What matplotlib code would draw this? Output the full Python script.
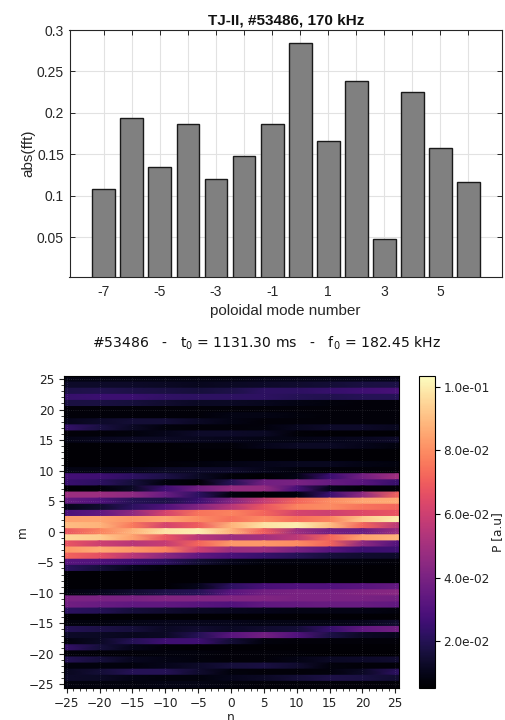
import numpy as np
import matplotlib
matplotlib.use("Agg")
import matplotlib.pyplot as plt
from matplotlib.colors import Normalize
from matplotlib.cm import ScalarMappable

W, H = 505, 720

# --- top panel data ---
mode_numbers = list(range(-7, 7))
fft_values = [0.108, 0.194, 0.134, 0.187, 0.120, 0.148, 0.186, 0.284, 0.166, 0.239, 0.047, 0.225, 0.158, 0.117]
y_ticks = [0.05, 0.1, 0.15, 0.2, 0.25, 0.3]
y_ticklabels = ["0.05", "0.1", "0.15", "0.2", "0.25", "0.3"]
x_tick_labelled = [-7, -5, -3, -1, 1, 3, 5]

# --- bottom panel data: P [1e-3 a.u.] sampled along n for each m (top row m=25) ---
n_samples = [-25.5, -20, -15, -10, -5, 0, 5, 10, 15, 20, 25.5]
m_values = list(range(25, -26, -1))
power_rows = [
    [9, 9, 9, 9, 9, 9, 10, 10, 10, 10, 10],
    [13, 13, 13, 12, 11, 12, 13, 14, 15, 17, 18],
    [18, 19, 18, 17, 16, 18, 22, 22, 24, 26, 28],
    [24, 25, 25, 23, 22, 22, 22, 20, 19, 20, 20],
    [17, 17, 16, 14, 12, 12, 11, 9, 8, 7, 7],
    [7, 7, 7, 7, 7, 7, 7, 7, 7, 7, 7],
    [7, 7, 7, 7, 7, 9, 9, 8, 7, 7, 7],
    [10, 13, 15, 15, 12, 9, 7, 7, 7, 7, 7],
    [24, 17, 12, 8, 7, 7, 8, 11, 13, 13, 11],
    [7, 7, 8, 10, 13, 13, 12, 7, 6, 6, 6],
    [9, 11, 12, 12, 11, 10, 9, 9, 10, 11, 13],
    [6, 6, 6, 6, 7, 7, 10, 12, 12, 10, 8],
    [6, 6, 6, 6, 6, 6, 6, 6, 6, 6, 6],
    [6, 6, 6, 6, 6, 6, 6, 6, 6, 6, 6],
    [6, 6, 6, 7, 8, 9, 10, 11, 11, 9, 8],
    [9, 9, 10, 12, 13, 13, 10, 8, 7, 7, 7],
    [27, 26, 22, 18, 12, 7, 6, 9, 25, 38, 50],
    [25, 22, 16, 8, 6, 20, 38, 40, 36, 32, 24],
    [6, 7, 12, 26, 38, 46, 46, 28, 10, 7, 7],
    [48, 48, 45, 36, 22, 8, 6, 8, 25, 45, 72],
    [36, 30, 20, 18, 25, 42, 58, 72, 80, 85, 86],
    [10, 14, 22, 30, 42, 55, 68, 78, 80, 75, 72],
    [28, 34, 45, 62, 75, 78, 72, 62, 60, 64, 68],
    [84, 85, 82, 85, 80, 74, 80, 74, 78, 92, 100],
    [90, 88, 76, 62, 70, 88, 98, 100, 90, 72, 55],
    [68, 78, 88, 98, 100, 88, 70, 48, 38, 36, 48],
    [95, 93, 84, 68, 55, 48, 50, 56, 72, 84, 88],
    [68, 60, 55, 58, 72, 82, 82, 80, 72, 45, 30],
    [82, 86, 82, 78, 60, 48, 48, 40, 32, 25, 26],
    [72, 66, 55, 44, 34, 28, 24, 20, 16, 14, 13],
    [32, 30, 26, 22, 15, 10, 8, 8, 8, 8, 7],
    [22, 16, 10, 7, 6, 6, 6, 6, 6, 6, 6],
    [6, 6, 6, 6, 6, 6, 6, 6, 6, 6, 6],
    [6, 6, 6, 6, 6, 6, 6, 6, 6, 6, 6],
    [6, 6, 6, 6, 10, 22, 28, 30, 30, 32, 35],
    [8, 10, 14, 18, 20, 32, 38, 40, 40, 42, 44],
    [40, 40, 40, 42, 42, 42, 42, 40, 40, 40, 38],
    [38, 36, 34, 34, 32, 30, 34, 35, 36, 36, 34],
    [22, 20, 16, 14, 12, 11, 10, 9, 9, 9, 8],
    [6, 6, 6, 6, 6, 6, 6, 6, 6, 6, 6],
    [8, 8, 9, 10, 10, 10, 9, 9, 9, 10, 14],
    [20, 18, 16, 12, 14, 12, 14, 15, 24, 34, 38],
    [13, 12, 11, 12, 20, 32, 38, 30, 18, 12, 10],
    [8, 12, 20, 26, 26, 15, 8, 7, 7, 7, 7],
    [24, 16, 10, 7, 6, 6, 6, 6, 6, 6, 6],
    [7, 7, 7, 8, 8, 7, 7, 7, 6, 6, 6],
    [20, 16, 11, 9, 8, 7, 7, 9, 12, 13, 14],
    [8, 8, 8, 10, 13, 16, 17, 14, 8, 7, 7],
    [11, 15, 20, 20, 14, 8, 7, 7, 8, 12, 22],
    [13, 12, 9, 8, 8, 10, 12, 15, 18, 17, 14],
    [8, 8, 8, 9, 9, 8, 7, 7, 7, 7, 7],
]
major_ticks = [-25, -20, -15, -10, -5, 0, 5, 10, 15, 20, 25]
cbar_ticks = [0.02, 0.04, 0.06, 0.08, 0.10]
cbar_labels = ["2.0e-02", "4.0e-02", "6.0e-02", "8.0e-02", "1.0e-01"]
p_min, p_max = 0.0054, 0.1034


def px_axes(fig, left, top, right, bottom):
    return fig.add_axes([left / W, 1 - bottom / H, (right - left) / W, (bottom - top) / H])


fig = plt.figure(figsize=(W / 100, H / 100), dpi=100)

# ---------------- top bar chart ----------------
sans = "Liberation Sans"
tcol = "#262626"
ax = px_axes(fig, 69.5, 30, 502, 277)
ax.set_axisbelow(True)
ax.bar(mode_numbers, fft_values, width=0.82, color="#808080", edgecolor="#1a1a1a", linewidth=1.0)
ax.set_xlim(-8.23, 7.21)
ax.set_ylim(0.0017, 0.3)
ax.set_xticks(mode_numbers)
ax.set_xticklabels([str(v) if v in x_tick_labelled else "" for v in mode_numbers],
                   family=sans, fontsize=10, color=tcol)
ax.set_yticks(y_ticks)
ax.set_yticklabels(y_ticklabels, family=sans, fontsize=10, color=tcol)
ax.tick_params(axis="both", direction="in", top=True, right=True, length=3.5, width=0.7, color="#262626")
ax.tick_params(axis="x", pad=6)
ax.tick_params(axis="y", pad=4)
ax.grid(True, color="#e2e2e2", linewidth=0.8)
for s in ax.spines.values():
    s.set_linewidth(0.8)
    s.set_color("#262626")
ax.set_xlabel("poloidal mode number", family=sans, fontsize=11, color=tcol, labelpad=3)
ax.set_ylabel("abs(fft)", family=sans, fontsize=11, color=tcol, labelpad=1)
ax.set_title("TJ-II, #53486, 170 kHz", family=sans, fontsize=11, fontweight="bold", color="#111111", pad=4)

fig.text(267 / W, 1 - 343 / H, r"#53486   -   t$_0$ = 1131.30 ms   -   f$_0$ = 182.45 kHz",
         family="DejaVu Sans", fontsize=10.1, ha="center", va="center", color="#111111",
         math_fontfamily="dejavusans")

# ---------------- bottom heatmap ----------------
ah = px_axes(fig, 63.5, 376, 398.5, 687.5)
norm = Normalize(p_min, p_max)
cmap = "magma"
for m, row in zip(m_values, power_rows):
    vals = np.array(row) * 1e-3
    # each strip runs slightly under the next one so no seam shows between rows
    ah.pcolormesh(n_samples, [m - 0.62, m + 0.5], np.vstack([vals, vals]),
                  shading="gouraud", cmap=cmap, norm=norm, rasterized=True)
ah.set_xlim(-25.5, 25.5)
ah.set_ylim(-25.5, 25.5)
ah.set_xticks(major_ticks)
ah.set_yticks(major_ticks)
ah.set_xticks(range(-25, 26), minor=True)
ah.set_yticks(range(-25, 26), minor=True)
ah.tick_params(axis="both", which="major", labelsize=8.7, length=3.5, width=0.8, pad=3, color="#222222", labelcolor="#222222")
ah.tick_params(axis="both", which="minor", length=2, width=0.6, color="#222222")
ah.grid(True, which="major", color="white", alpha=0.15, linewidth=0.6, linestyle=":")
ah.set_xlabel("n", fontsize=8.7, labelpad=1, color="#222222")
ah.set_ylabel("m", fontsize=8.7, labelpad=0, color="#222222")
for s in ah.spines.values():
    s.set_linewidth(0.8)

cax = px_axes(fig, 419, 376, 434.5, 687.5)
cb = fig.colorbar(ScalarMappable(norm=norm, cmap=cmap), cax=cax)
cb.set_ticks(cbar_ticks)
cb.set_ticklabels(cbar_labels)
cb.ax.tick_params(labelsize=8.7, length=3.5, width=0.8, pad=3, labelcolor="#222222")
cb.set_label("P [a.u]", fontsize=8.7, labelpad=1, color="#222222")
cb.outline.set_linewidth(0.8)

fig.savefig("out.png", dpi=100)
